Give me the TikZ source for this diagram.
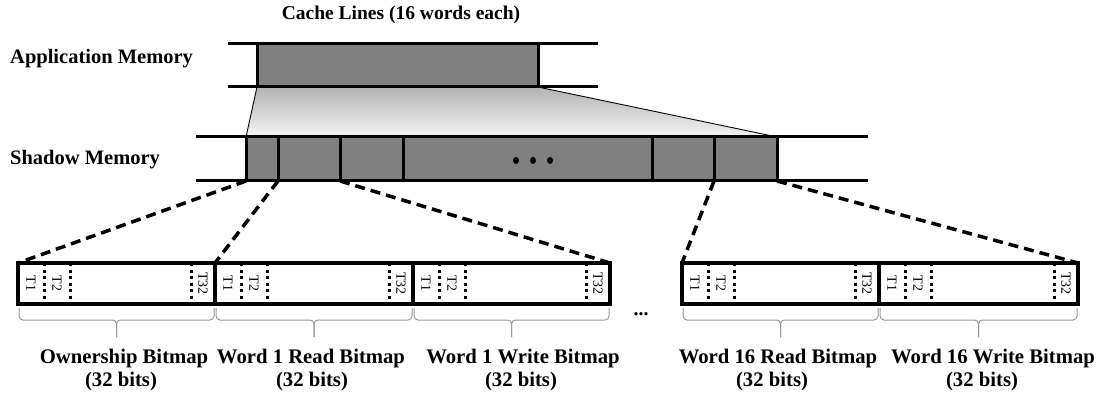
\documentclass[tikz,border=0pt]{standalone}
\usepackage{fontspec}
\setmainfont{Liberation Serif}
\usetikzlibrary{backgrounds}
\begin{document}
\begin{tikzpicture}[x=1pt,y=-1pt,
  lbl/.style={font=\bfseries\fontsize{20.7}{24}\selectfont, inner sep=0, anchor=base},
  lblw/.style={lbl, font=\bfseries\fontsize{20.5}{24}\selectfont, anchor=base west},
  tl/.style={font=\fontsize{14}{16}\selectfont, rotate=-90, inner sep=0},
  memline/.style={line width=3pt},
  cellbox/.style={draw, fill=black!50, line width=3pt, inner sep=0, outer sep=0, minimum height=44pt},
  bitbox/.style={draw, line width=3.5pt, inner sep=0, outer sep=0, minimum height=41pt},
  zoomline/.style={dash pattern=on 10pt off 6pt, line width=3.5pt},
  bitline/.style={dash pattern=on 3pt off 3.5pt, line width=3pt},
  bracepath/.style={draw=black!40, line width=1pt, rounded corners=4pt},
  edge/.style={line width=0.9pt}
]
\useasboundingbox (0,0) rectangle (1099,395);

% texts
\node[lbl, font=\bfseries\fontsize{19.5}{24}\selectfont] (title) at (401,20) {Cache Lines (16 words each)};
\node[lblw] (appl) at (10,64) {Application Memory};
\node[lblw] (shdl) at (10,165) {Shadow Memory};

% application memory
\draw[memline] (228,44) -- (598,44);
\draw[memline] (228,87) -- (598,87);
\node[cellbox, minimum width=281pt, minimum height=43pt] (app) at (397.5,65.5) {};

% shadow memory
\draw[memline] (196,137) -- (868,137);
\draw[memline] (196,181) -- (868,181);
\node[cellbox, minimum width=32pt] (c1) at (262,159) {};
\node[cellbox, minimum width=62pt] (c2) at (309,159) {};
\node[cellbox, minimum width=63pt] (c3) at (371.5,159) {};
\node[cellbox, minimum width=249pt] (c4) at (527.5,159) {};
\node[cellbox, minimum width=62pt] (c5) at (683,159) {};
\node[cellbox, minimum width=63pt] (c6) at (745.5,159) {};
\fill (516,160.5) ellipse (3pt and 3.6pt);
\fill (533,160.5) ellipse (3pt and 3.6pt);
\fill (550,160.5) ellipse (3pt and 3.6pt);

% zoom trapezoid
\begin{scope}[on background layer]
\shade[top color=black!30, bottom color=black!4]
  (app.south west) -- (app.south east) -- (c6.north east) -- (c1.north west) -- cycle;
\end{scope}
\draw[edge] (app.south west) -- (c1.north west);
\draw[edge] (app.south east) -- (c6.north east);

% bitmap boxes
\node[bitbox, minimum width=197pt] (b1) at (116.5,283.5) {};
\node[bitbox, minimum width=198pt] (b2) at (314,283.5) {};
\node[bitbox, minimum width=197pt] (b3) at (511.5,283.5) {};
\node[bitbox, minimum width=197pt] (b4) at (780.5,283.5) {};
\node[bitbox, minimum width=199pt] (b5) at (978.5,283.5) {};

\foreach \n in {b1,b2,b3,b4,b5}{
  \draw[bitline] ([xshift=26pt]\n.north west) -- ([xshift=26pt]\n.south west);
  \draw[bitline] ([xshift=52pt]\n.north west) -- ([xshift=52pt]\n.south west);
  \draw[bitline] ([xshift=-24pt]\n.north east) -- ([xshift=-24pt]\n.south east);
  \node[tl] at ([xshift=13pt]\n.west) {T1};
  \node[tl] at ([xshift=39pt]\n.west) {T2};
  \node[tl] at ([xshift=-12pt]\n.east) {T32};
  \path ([xshift=1pt,yshift=-4pt]\n.south west) coordinate (bl)
        ([xshift=-1pt,yshift=-4pt]\n.south east) coordinate (br)
        ([yshift=-4pt]\n.south) coordinate (bm);
  \draw[bracepath] (bl) -- ([yshift=-12pt]bl) -- ([yshift=-12pt]bm) -- ([yshift=-29pt]bm);
  \draw[bracepath] (br) -- ([yshift=-12pt]br) -- ([yshift=-12pt]bm) -- ([yshift=-29pt]bm);
}

% zoom connectors
\draw[zoomline] (c1.south west) -- (b1.north west);
\draw[zoomline] (c1.south east) -- (b1.north east);
\draw[zoomline] (c2.south east) -- (b3.north east);
\draw[zoomline] (c6.south west) -- (b4.north west);
\draw[zoomline] (c6.south east) -- (b5.north east);

\node[lbl, font=\bfseries\fontsize{20}{24}\selectfont] (gap) at (641,315) {...};

% labels
\node[lbl] (l1a) at (124,363) {Ownership Bitmap};
\node[lbl] (l1b) at (121,386) {(32 bits)};
\node[lbl] (l2a) at (311,363) {Word 1 Read Bitmap};
\node[lbl] (l2b) at (312,386) {(32 bits)};
\node[lbl] (l3a) at (523,363) {Word 1 Write Bitmap};
\node[lbl] (l3b) at (521,386) {(32 bits)};
\node[lbl] (l4a) at (778,363) {Word 16 Read Bitmap};
\node[lbl] (l4b) at (772,386) {(32 bits)};
\node[lbl] (l5a) at (993,363) {Word 16 Write Bitmap};
\node[lbl] (l5b) at (982,386) {(32 bits)};
\end{tikzpicture}
\end{document}
